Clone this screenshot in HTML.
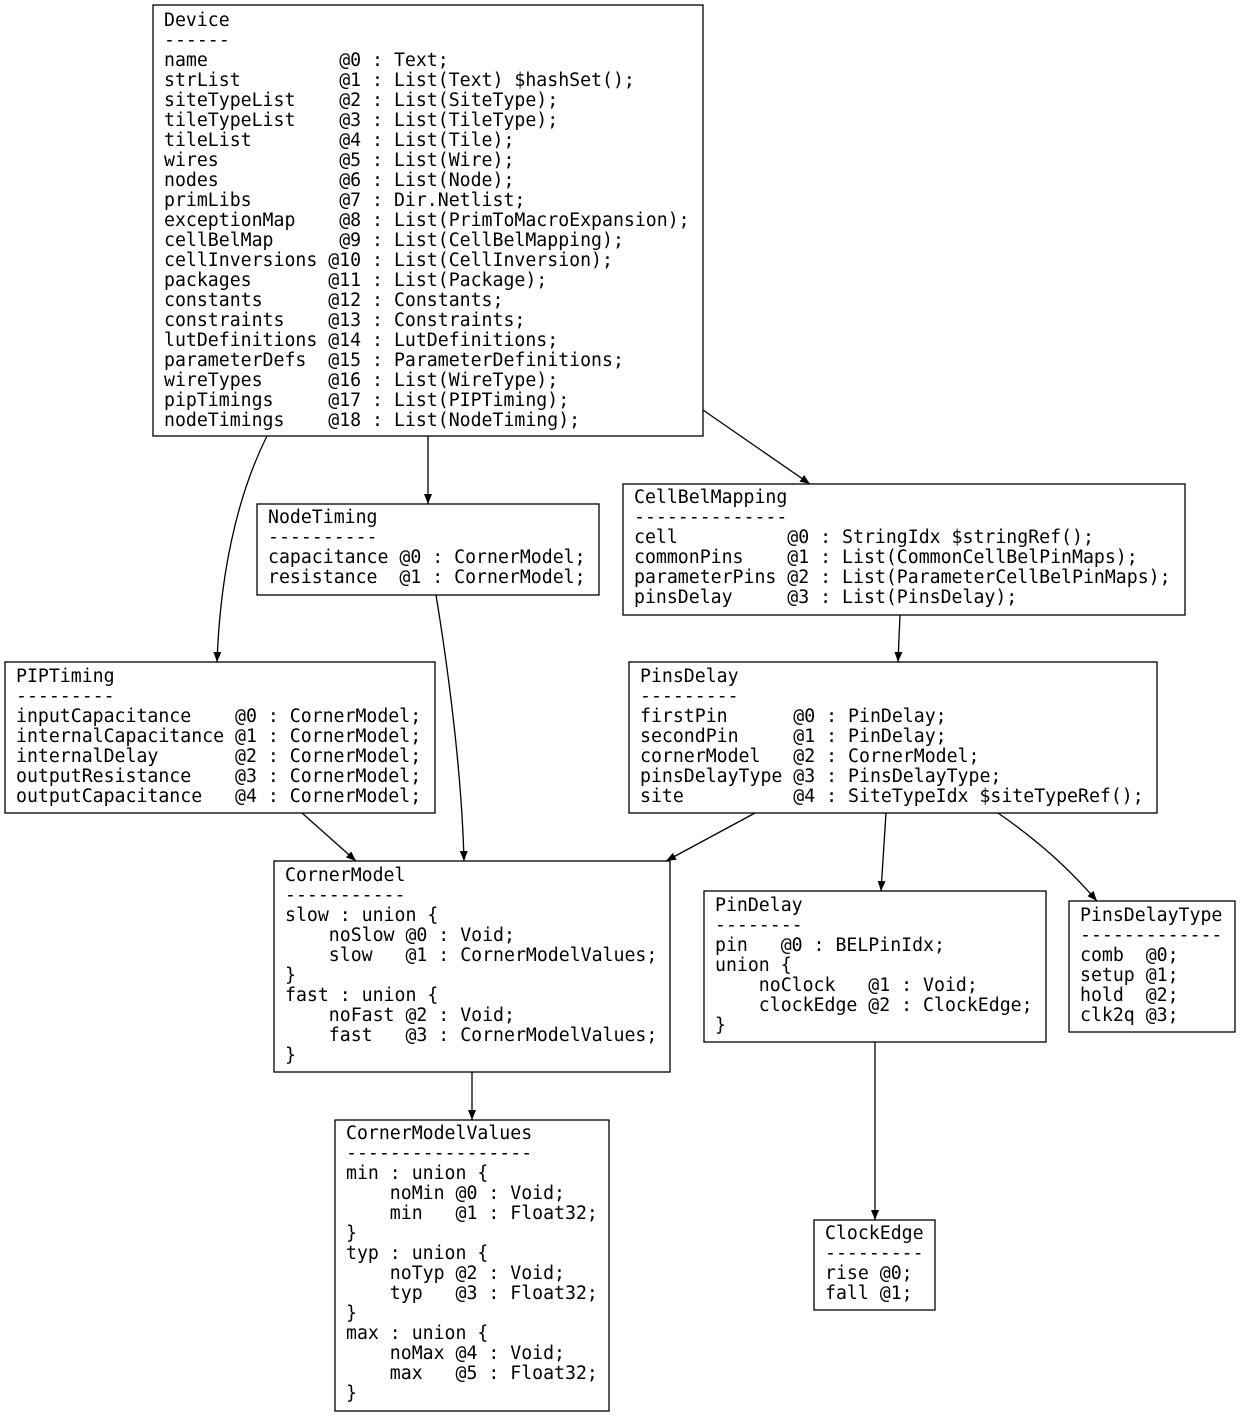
<!DOCTYPE html>
<html><head><meta charset="utf-8"><style>
html,body{margin:0;padding:0;background:#fff}
svg text{font-family:"DejaVu Sans Mono","Liberation Mono",monospace;font-size:18.2px;fill:#000;white-space:pre}
</style></head><body>
<svg width="1240" height="1416" viewBox="0 0 1240 1416" xmlns="http://www.w3.org/2000/svg">
<defs><marker id="a" markerWidth="10" markerHeight="8" refX="10" refY="4" orient="auto" markerUnits="userSpaceOnUse"><path d="M0,0 L10,4 L0,8 z" fill="#000"/></marker></defs>
<g fill="#fff" stroke="#000" stroke-width="1.3">
<rect x="153" y="5" width="550" height="431"/>
<rect x="257" y="504" width="342" height="91"/>
<rect x="623" y="484" width="562" height="131"/>
<rect x="5" y="662" width="430" height="151"/>
<rect x="629" y="662" width="528" height="151"/>
<rect x="274" y="861" width="396" height="211"/>
<rect x="704" y="891" width="342" height="151"/>
<rect x="1069" y="901" width="166" height="131"/>
<rect x="335" y="1120" width="274" height="291"/>
<rect x="814" y="1220" width="121" height="90"/>
</g>
<g fill="none" stroke="#000" stroke-width="1.3" marker-end="url(#a)">
<path d="M428,436 L428,504"/>
<path d="M703,410 L810,484"/>
<path d="M267,436 C235,500 220,580 217,662"/>
<path d="M436,595 C450,680 462,780 464,861"/>
<path d="M900,615 L898,662"/>
<path d="M302,813 L356,861"/>
<path d="M755,813 L666,861"/>
<path d="M886,813 L881,891"/>
<path d="M998,813 C1040,842 1070,870 1097,901"/>
<path d="M472,1072 L472,1120"/>
<path d="M875,1042 L875,1220"/>
</g>
<text x="164" y="26" xml:space="preserve"><tspan x="164" dy="0">Device</tspan><tspan x="164" dy="20">------</tspan><tspan x="164" dy="20">name            @0 : Text;</tspan><tspan x="164" dy="20">strList         @1 : List(Text) $hashSet();</tspan><tspan x="164" dy="20">siteTypeList    @2 : List(SiteType);</tspan><tspan x="164" dy="20">tileTypeList    @3 : List(TileType);</tspan><tspan x="164" dy="20">tileList        @4 : List(Tile);</tspan><tspan x="164" dy="20">wires           @5 : List(Wire);</tspan><tspan x="164" dy="20">nodes           @6 : List(Node);</tspan><tspan x="164" dy="20">primLibs        @7 : Dir.Netlist;</tspan><tspan x="164" dy="20">exceptionMap    @8 : List(PrimToMacroExpansion);</tspan><tspan x="164" dy="20">cellBelMap      @9 : List(CellBelMapping);</tspan><tspan x="164" dy="20">cellInversions @10 : List(CellInversion);</tspan><tspan x="164" dy="20">packages       @11 : List(Package);</tspan><tspan x="164" dy="20">constants      @12 : Constants;</tspan><tspan x="164" dy="20">constraints    @13 : Constraints;</tspan><tspan x="164" dy="20">lutDefinitions @14 : LutDefinitions;</tspan><tspan x="164" dy="20">parameterDefs  @15 : ParameterDefinitions;</tspan><tspan x="164" dy="20">wireTypes      @16 : List(WireType);</tspan><tspan x="164" dy="20">pipTimings     @17 : List(PIPTiming);</tspan><tspan x="164" dy="20">nodeTimings    @18 : List(NodeTiming);</tspan></text>
<text x="268" y="523" xml:space="preserve"><tspan x="268" dy="0">NodeTiming</tspan><tspan x="268" dy="20">----------</tspan><tspan x="268" dy="20">capacitance @0 : CornerModel;</tspan><tspan x="268" dy="20">resistance  @1 : CornerModel;</tspan></text>
<text x="634" y="503" xml:space="preserve"><tspan x="634" dy="0">CellBelMapping</tspan><tspan x="634" dy="20">--------------</tspan><tspan x="634" dy="20">cell          @0 : StringIdx $stringRef();</tspan><tspan x="634" dy="20">commonPins    @1 : List(CommonCellBelPinMaps);</tspan><tspan x="634" dy="20">parameterPins @2 : List(ParameterCellBelPinMaps);</tspan><tspan x="634" dy="20">pinsDelay     @3 : List(PinsDelay);</tspan></text>
<text x="16" y="682" xml:space="preserve"><tspan x="16" dy="0">PIPTiming</tspan><tspan x="16" dy="20">---------</tspan><tspan x="16" dy="20">inputCapacitance    @0 : CornerModel;</tspan><tspan x="16" dy="20">internalCapacitance @1 : CornerModel;</tspan><tspan x="16" dy="20">internalDelay       @2 : CornerModel;</tspan><tspan x="16" dy="20">outputResistance    @3 : CornerModel;</tspan><tspan x="16" dy="20">outputCapacitance   @4 : CornerModel;</tspan></text>
<text x="640" y="682" xml:space="preserve"><tspan x="640" dy="0">PinsDelay</tspan><tspan x="640" dy="20">---------</tspan><tspan x="640" dy="20">firstPin      @0 : PinDelay;</tspan><tspan x="640" dy="20">secondPin     @1 : PinDelay;</tspan><tspan x="640" dy="20">cornerModel   @2 : CornerModel;</tspan><tspan x="640" dy="20">pinsDelayType @3 : PinsDelayType;</tspan><tspan x="640" dy="20">site          @4 : SiteTypeIdx $siteTypeRef();</tspan></text>
<text x="285" y="881" xml:space="preserve"><tspan x="285" dy="0">CornerModel</tspan><tspan x="285" dy="20">-----------</tspan><tspan x="285" dy="20">slow : union {</tspan><tspan x="285" dy="20">    noSlow @0 : Void;</tspan><tspan x="285" dy="20">    slow   @1 : CornerModelValues;</tspan><tspan x="285" dy="20">}</tspan><tspan x="285" dy="20">fast : union {</tspan><tspan x="285" dy="20">    noFast @2 : Void;</tspan><tspan x="285" dy="20">    fast   @3 : CornerModelValues;</tspan><tspan x="285" dy="20">}</tspan></text>
<text x="715" y="911" xml:space="preserve"><tspan x="715" dy="0">PinDelay</tspan><tspan x="715" dy="20">--------</tspan><tspan x="715" dy="20">pin   @0 : BELPinIdx;</tspan><tspan x="715" dy="20">union {</tspan><tspan x="715" dy="20">    noClock   @1 : Void;</tspan><tspan x="715" dy="20">    clockEdge @2 : ClockEdge;</tspan><tspan x="715" dy="20">}</tspan></text>
<text x="1080" y="921" xml:space="preserve"><tspan x="1080" dy="0">PinsDelayType</tspan><tspan x="1080" dy="20">-------------</tspan><tspan x="1080" dy="20">comb  @0;</tspan><tspan x="1080" dy="20">setup @1;</tspan><tspan x="1080" dy="20">hold  @2;</tspan><tspan x="1080" dy="20">clk2q @3;</tspan></text>
<text x="346" y="1139" xml:space="preserve"><tspan x="346" dy="0">CornerModelValues</tspan><tspan x="346" dy="20">-----------------</tspan><tspan x="346" dy="20">min : union {</tspan><tspan x="346" dy="20">    noMin @0 : Void;</tspan><tspan x="346" dy="20">    min   @1 : Float32;</tspan><tspan x="346" dy="20">}</tspan><tspan x="346" dy="20">typ : union {</tspan><tspan x="346" dy="20">    noTyp @2 : Void;</tspan><tspan x="346" dy="20">    typ   @3 : Float32;</tspan><tspan x="346" dy="20">}</tspan><tspan x="346" dy="20">max : union {</tspan><tspan x="346" dy="20">    noMax @4 : Void;</tspan><tspan x="346" dy="20">    max   @5 : Float32;</tspan><tspan x="346" dy="20">}</tspan></text>
<text x="825" y="1239" xml:space="preserve"><tspan x="825" dy="0">ClockEdge</tspan><tspan x="825" dy="20">---------</tspan><tspan x="825" dy="20">rise @0;</tspan><tspan x="825" dy="20">fall @1;</tspan></text>
</svg>
</body></html>
